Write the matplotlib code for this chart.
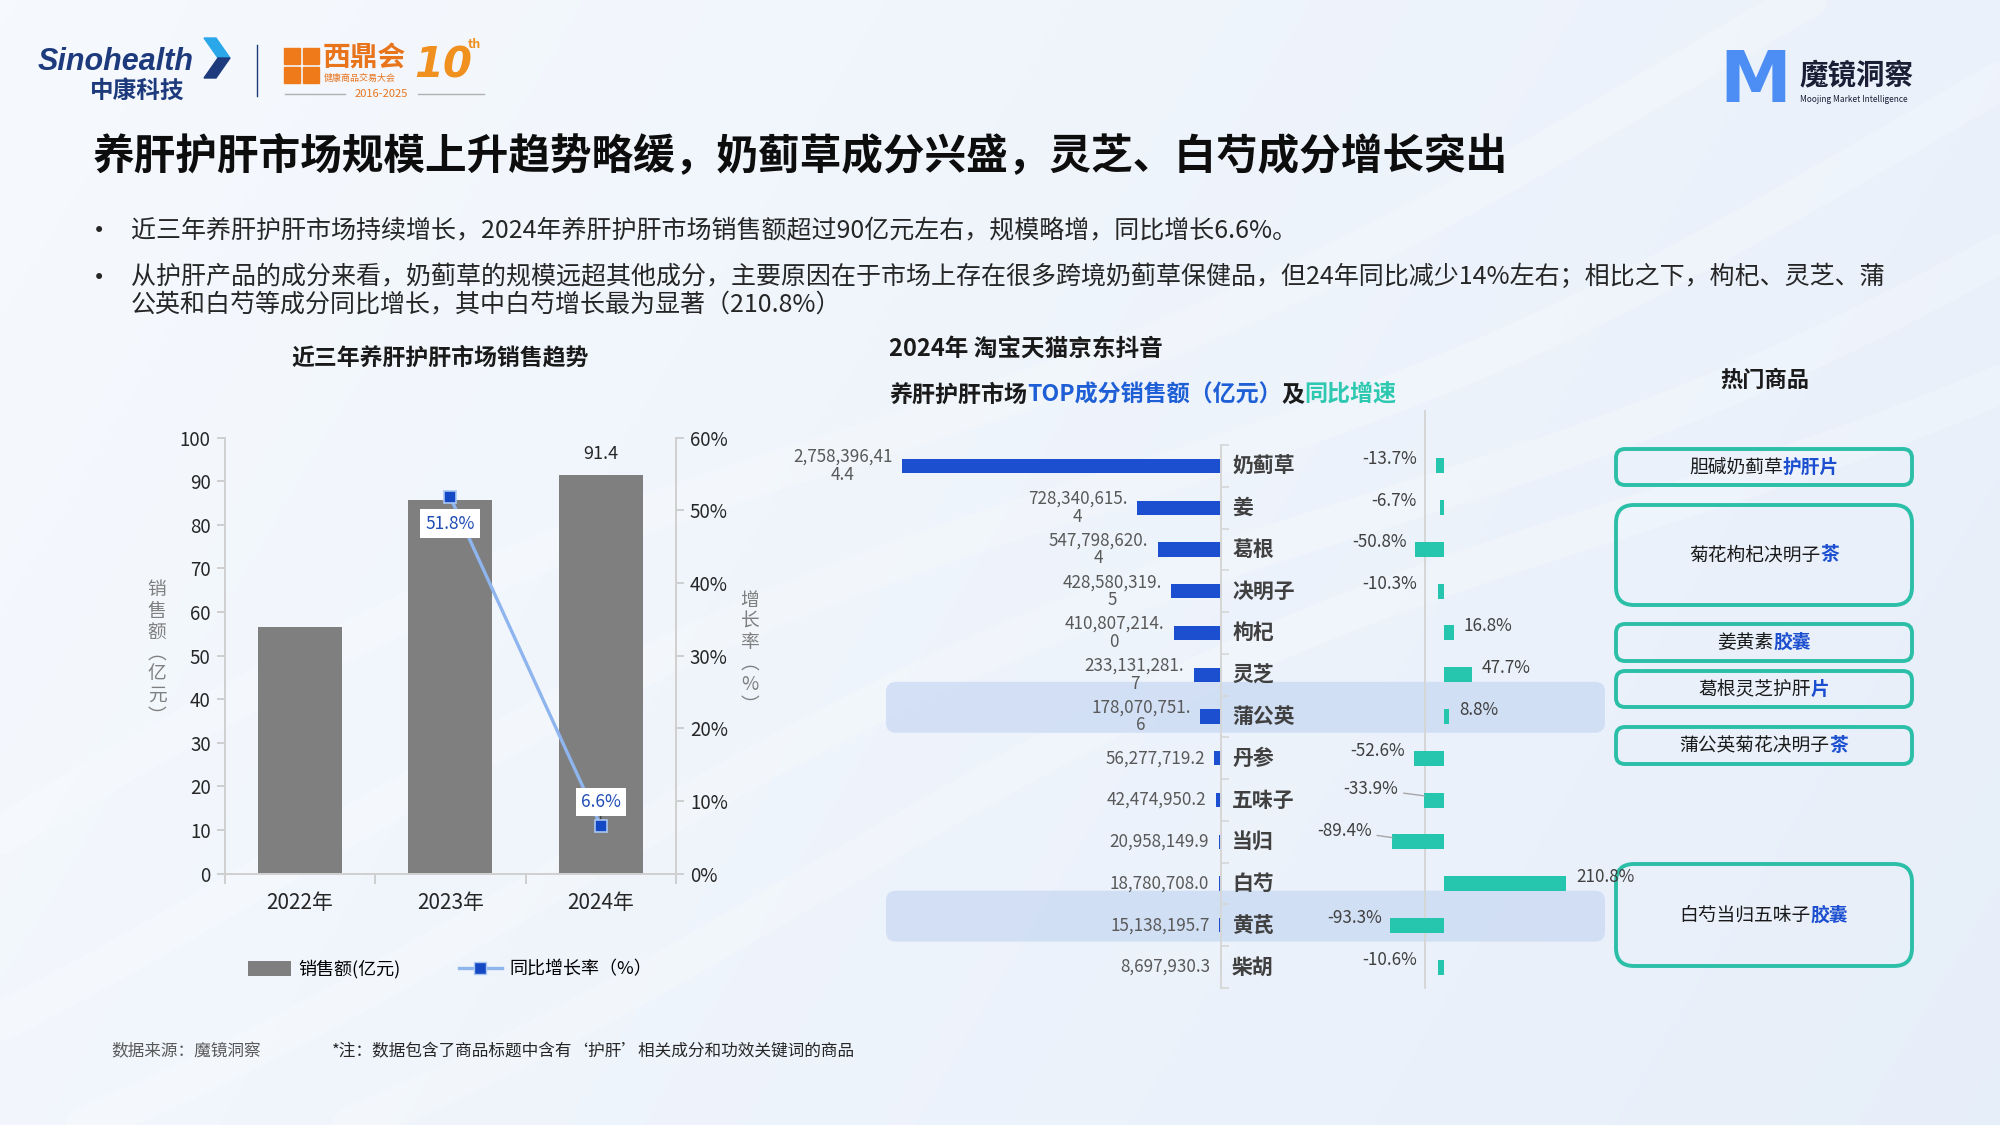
import matplotlib
matplotlib.use('Agg')
import matplotlib.pyplot as plt
from matplotlib.patches import FancyBboxPatch, Rectangle, Patch, Polygon
from matplotlib.lines import Line2D
import numpy as np

plt.rcParams['font.family'] = ['Noto Sans CJK SC', 'DejaVu Sans']

# ---- data ----
years = ['2022年', '2023年', '2024年']
sales = [56.5, 85.7, 91.4]
growth_years = ['2023年', '2024年']
growth = [51.8, 6.6]

ingredients = ['奶蓟草', '姜', '葛根', '决明子', '枸杞', '灵芝', '蒲公英',
               '丹参', '五味子', '当归', '白芍', '黄芪', '柴胡']
ingr_sales = [2758396414.4, 728340615.4, 547798620.4, 428580319.5, 410807214.0,
              233131281.7, 178070751.6, 56277719.2, 42474950.2, 20958149.9,
              18780708.0, 15138195.7, 8697930.3]
ingr_growth = [-13.7, -6.7, -50.8, -10.3, 16.8, 47.7, 8.8, -52.6, -33.9, -89.4,
               210.8, -93.3, -10.6]
highlight = ['蒲公英', '黄芪']

products = [('胆碱奶蓟草', '护肝片'), ('菊花枸杞决明子', '茶'), ('姜黄素', '胶囊'),
            ('葛根灵芝护肝', '片'), ('蒲公英菊花决明子', '茶'), ('白芍当归五味子', '胶囊')]
product_rows = [(449, 485), (505, 605), (624, 661), (671, 707), (727, 764), (864, 966)]

title = '养肝护肝市场规模上升趋势略缓，奶蓟草成分兴盛，灵芝、白芍成分增长突出'
bullets = [
    '近三年养肝护肝市场持续增长，2024年养肝护肝市场销售额超过90亿元左右，规模略增，同比增长6.6%。',
    '从护肝产品的成分来看，奶蓟草的规模远超其他成分，主要原因在于市场上存在很多跨境奶蓟草保健品，但24年同比减少14%左右；相比之下，枸杞、灵芝、蒲\n'
    '公英和白芍等成分同比增长，其中白芍增长最为显著（210.8%）',
]

W, H = 2000, 1125
BLUE = '#1b4fd0'
TEAL = '#25c6ad'
DARK = '#262626'

fig = plt.figure(figsize=(20, 11.25), dpi=100)

# background canvas in pixel units
bg = fig.add_axes([0, 0, 1, 1], zorder=-1)
bg.set_xlim(0, W)
bg.set_ylim(H, 0)
bg.axis('off')
gx, gy = np.meshgrid(np.linspace(0, 1, 400), np.linspace(0, 1, 225))
t = gx * 0.75 + gy * 0.25
c0 = np.array([0.965, 0.978, 0.995])
c1 = np.array([0.905, 0.935, 0.978])
bg.imshow(c0 + (c1 - c0) * t[..., None], extent=(0, W, H, 0), aspect='auto', zorder=0)
xs = np.linspace(0, W, 300)
for k, a in enumerate([0.0, 120, 260, 420]):
    ys = 1250 - 0.45 * xs - a + 35 * np.sin(xs / 260 + k)
    bg.plot(xs, ys, color='white', lw=28, alpha=0.22, zorder=0.5, solid_capstyle='round')

# ---- logos ----
bg.text(38, 62, 'Sinohealth', fontsize=22, fontstyle='italic', fontweight='bold',
        color='#1d3b7c', va='center', family=['Liberation Sans'])
bg.add_patch(Polygon([(204, 38), (216, 38), (230, 58), (218, 58)], color='#2aa7e8'))
bg.add_patch(Polygon([(218, 58), (230, 58), (216, 78), (204, 78)], color='#1d3b7c'))
bg.text(90, 91, '中康科技', fontsize=17, fontweight='bold', color='#1d3b7c', va='center')
bg.plot([257, 257], [45, 96], color='#1d3b7c', lw=1)
for dx in (0, 19):
    for dy in (0, 19):
        bg.add_patch(Rectangle((284 + dx, 48 + dy), 16, 16, color='#ee7a1a'))
bg.text(323, 58, '西鼎会', fontsize=20, fontweight='bold', color='#e8741c', va='center')
bg.text(324, 78, '健康商品交易大会', fontsize=6.5, color='#e8741c', va='center')
bg.text(414, 66, '10', fontsize=30, fontweight='bold', fontstyle='italic', color='#f0901e',
        va='center', family=['DejaVu Sans'])
bg.text(468, 44, 'th', fontsize=9, fontweight='bold', color='#f0901e', va='center')
bg.plot([285, 345], [94, 94], color='#b0b0b0', lw=1)
bg.plot([418, 484], [94, 94], color='#b0b0b0', lw=1)
bg.text(381, 94, '2016-2025', fontsize=8, color='#e8741c', va='center', ha='center')

bg.text(1755, 82, 'M', fontsize=52, fontweight='bold', color='#4d8ef5', ha='center',
        va='center', family=['DejaVu Sans'])
bg.text(1799, 76, '魔镜洞察', fontsize=20.5, fontweight='bold', color='#1a1f36', va='center')
bg.text(1800, 99, 'Moojing Market Intelligence', fontsize=6, color='#1a1f36', va='center')

# ---- title & bullets ----
bg.text(93, 156, title, fontsize=30, fontweight='bold', color='#0d0d0d', va='center')
bg.text(93, 231, '•', fontsize=15, color=DARK, va='center', family=['DejaVu Sans'])
bg.text(131, 231, bullets[0], fontsize=18, color=DARK, va='center')
bg.text(93, 278, '•', fontsize=15, color=DARK, va='center', family=['DejaVu Sans'])
bg.text(131, 264, bullets[1], fontsize=18, color=DARK, va='top', linespacing=1.05)

renderer = fig.canvas.get_renderer()


def rich_text(x, y, parts, size, ha='left'):
    objs = []
    for s, color, weight in parts:
        objs.append(bg.text(0, y, s, fontsize=size, color=color, fontweight=weight,
                            va='center', ha='left'))
    widths = [o.get_window_extent(renderer).width for o in objs]
    start = x - sum(widths) / 2 if ha == 'center' else x
    for o, w in zip(objs, widths):
        o.set_x(start)
        start += w


# ---- left chart ----
ax = fig.add_axes([224.5 / W, 1 - 873.7 / H, (676 - 224.5) / W, (873.7 - 437.5) / H])
ax.set_facecolor('none')
xi = np.arange(len(years))
ax.bar(xi, sales, width=0.556, color='#7f7f7f', zorder=2)
ax.set_xlim(-0.5, len(years) - 0.5)
ax.set_ylim(0, 100)
ax.set_yticks(range(0, 101, 10))
ax.set_xticks(xi)
ax.set_xticklabels(years, fontsize=15, color=DARK)
ax.set_xticks(np.arange(-0.5, len(years)), minor=True)
ax.tick_params(axis='x', which='major', length=0, pad=13)
ax.tick_params(axis='x', which='minor', length=7, color='#c8c8c8', width=1.2)
ax.tick_params(axis='y', length=6, color='#c8c8c8', width=1.2, labelsize=13.5,
               labelcolor=DARK, pad=4)
ax.spines['top'].set_visible(False)
for s in ['left', 'right', 'bottom']:
    ax.spines[s].set_color('#d0d0d0')
    ax.spines[s].set_linewidth(1.4)
ax.annotate(f'{sales[-1]:.1f}', xy=(xi[-1], sales[-1]), xytext=(0, 9),
            textcoords='offset points', ha='center', va='bottom', fontsize=13, color=DARK)

ax2 = ax.twinx()
ax2.set_ylim(0, 60)
ax2.set_yticks(range(0, 61, 10))
ax2.set_yticklabels([f'{v}%' for v in range(0, 61, 10)])
ax2.tick_params(axis='y', length=6, color='#c8c8c8', width=1.2, labelsize=13.5,
                labelcolor=DARK, pad=4)
ax2.spines['top'].set_visible(False)
for s in ['left', 'right', 'bottom']:
    ax2.spines[s].set_color('#d0d0d0')
    ax2.spines[s].set_linewidth(1.4)
gx_pos = [years.index(y) for y in growth_years]
ax2.plot(gx_pos, growth, color='#8fb5ee', lw=2.4, marker='s', ms=8.5,
         mfc='#1448c4', mec='#a9c6f3', mew=1.2, zorder=3)
growth_label_dy = [-19, 17]
for xp, g, dy in zip(gx_pos, growth, growth_label_dy):
    ax2.annotate(f'{g:.1f}%', xy=(xp, g), xytext=(0, dy), textcoords='offset points',
                 ha='center', va='center', fontsize=12.5, color='#1f4db5',
                 bbox=dict(boxstyle='square,pad=0.3', fc='white', ec='none'),
                 arrowprops=dict(arrowstyle='-', color='#333333', lw=0.8,
                                 shrinkA=0, shrinkB=5) if dy > 0 else None, zorder=4)

fig.text(157 / W, 1 - 653 / H, '\n'.join('销售额︵亿元︶'), fontsize=13.5, color='#7f7f7f',
         ha='center', va='center', linespacing=1.0)
fig.text(750 / W, 1 - 653 / H, '\n'.join('增长率︵%︶'), fontsize=13.5, color='#7f7f7f',
         ha='center', va='center', linespacing=1.0)
bg.text(440, 358, '近三年养肝护肝市场销售趋势', fontsize=16.5, fontweight='bold',
        color='#1a1a1a', ha='center', va='center')

handles = [Patch(facecolor='#7f7f7f'),
           Line2D([], [], color='#8fb5ee', lw=2.4, marker='s', ms=8.5, mfc='#1448c4',
                  mec='#a9c6f3')]
fig.legend(handles, ['销售额(亿元)', '同比增长率（%）'], loc='center',
           bbox_to_anchor=(450 / W, 1 - 969 / H), ncol=2, frameon=False, fontsize=13,
           columnspacing=3.2, handlelength=2.4, handleheight=0.9, handletextpad=0.4)

# ---- right chart: sales (left) and growth (right) ----
top_px, bot_px = 445, 988
rows = np.arange(len(ingredients))
ax_s = fig.add_axes([886 / W, 1 - bot_px / H, (1221 - 886) / W, (bot_px - top_px) / H])
ax_s.set_facecolor('none')
ax_s.barh(rows, ingr_sales, height=0.34, color=BLUE, zorder=2)
ax_s.set_xlim(2.9e9, 0)
ax_s.set_ylim(len(ingredients) - 0.5, -0.5)
ax_s.set_xticks([])
ax_s.yaxis.tick_right()
ax_s.set_yticks(np.arange(-0.5, len(ingredients)))
ax_s.set_yticklabels([])
ax_s.tick_params(axis='y', direction='out', length=6, color='#d6d6d6', width=1.2)
for s in ['left', 'top', 'bottom']:
    ax_s.spines[s].set_visible(False)
ax_s.spines['right'].set_color('#d6d6d6')
ax_s.spines['right'].set_linewidth(1.4)


def wrap_num(v, width=12):
    s = f'{v:,.1f}'
    return '\n'.join(s[i:i + width] for i in range(0, len(s), width))


for i, (name, v) in enumerate(zip(ingredients, ingr_sales)):
    ax_s.annotate(wrap_num(v), xy=(v, i), xytext=(-7, 0), textcoords='offset points',
                  ha='right', va='center', multialignment='center', fontsize=12.3,
                  color='#595959', linespacing=1.0, annotation_clip=False)
    ax_s.annotate(name, xy=(0, i), xytext=(8, 0), textcoords='offset points',
                  ha='left', va='center', fontsize=15, fontweight='bold', color='#404040',
                  annotation_clip=False)

ax_g = fig.add_axes([1425 / W, 1 - bot_px / H, (1605 - 1425) / W, (bot_px - top_px) / H])
ax_g.set_facecolor('none')
ax_g.barh(rows, ingr_growth, height=0.36, color=TEAL, zorder=2, clip_on=False)
ax_g.set_xlim(-33, 278)
ax_g.set_ylim(len(ingredients) - 0.5, -0.5)
ax_g.axis('off')
leader = {'五味子': 14, '当归': 10}
xmin = ax_g.get_xlim()[0]
for i, (name, g) in enumerate(zip(ingredients, ingr_growth)):
    lab = f'{g:.1f}%'
    if g >= 0:
        ax_g.annotate(lab, xy=(g, i), xytext=(7, 5), textcoords='offset points',
                      ha='left', va='center', fontsize=12.3, color='#404040',
                      annotation_clip=False)
    elif name in leader:
        ax_g.annotate(lab, xy=(g, i - 0.1), xytext=(-5 - leader[name], 5),
                      textcoords='offset points', ha='right', va='center', fontsize=12.3,
                      color='#404040', annotation_clip=False,
                      arrowprops=dict(arrowstyle='-', color='#a6a6a6', lw=1,
                                      shrinkA=2, shrinkB=0))
    else:
        ax_g.annotate(lab, xy=(min(g, xmin), i), xytext=(-6, 5), textcoords='offset points',
                      ha='right', va='center', fontsize=12.3, color='#404040',
                      annotation_clip=False)
bg.plot([1425, 1425], [411, 988], color='#d6d6d6', lw=1.4, zorder=2)

# highlight bands behind rows
inv = bg.transData.inverted()
for name in highlight:
    r = ingredients.index(name)
    y0 = inv.transform(ax_s.transData.transform((0, r - 0.83)))[1]
    y1 = inv.transform(ax_s.transData.transform((0, r + 0.39)))[1]
    bg.add_patch(FancyBboxPatch((886, y0), 1605 - 886, y1 - y0,
                                boxstyle='round,pad=0,rounding_size=10',
                                fc='#c9d9f3', ec='none', alpha=0.75, zorder=1))

bg.text(889, 350, '2024年 淘宝天猫京东抖音', fontsize=17, fontweight='bold',
        color='#1a1a1a', va='center')
rich_text(889, 395, [('养肝护肝市场', '#1a1a1a', 'bold'),
                     ('TOP成分销售额（亿元）', '#1f5fd6', 'bold'),
                     ('及', '#1a1a1a', 'bold'),
                     ('同比增速', '#2cc8b0', 'bold')], 16.6)

# ---- hot products ----
bg.text(1765, 380, '热门商品', fontsize=16, fontweight='bold', color='#1a1a1a',
        ha='center', va='center')
for (plain, strong), (y0, y1) in zip(products, product_rows):
    rs = 18 if y1 - y0 > 60 else 9
    bg.add_patch(FancyBboxPatch((1616, y0), 1912 - 1616, y1 - y0,
                                boxstyle=f'round,pad=0,rounding_size={rs}',
                                fc='none', ec='#2bbfa8', lw=2.8, zorder=2))
    rich_text(1764, (y0 + y1) / 2, [(plain, '#1a1a1a', 'normal'), (strong, BLUE, 'bold')],
              13.5, ha='center')

# ---- footer ----
bg.text(111, 1052, '数据来源：魔镜洞察', fontsize=12, color='#595959', va='center')
bg.text(332, 1052, '*注：数据包含了商品标题中含有‘护肝’相关成分和功效关键词的商品',
        fontsize=12, color='#262626', va='center')

fig.savefig('out.png', dpi=100)
